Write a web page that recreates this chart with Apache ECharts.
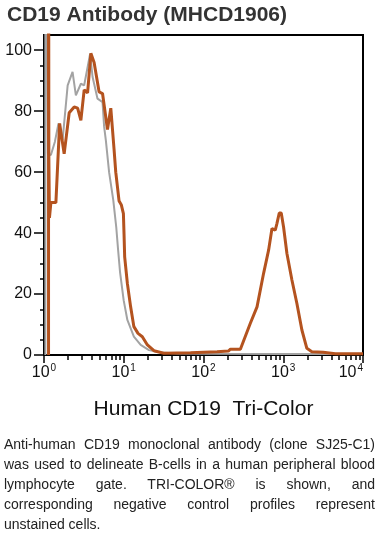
<!DOCTYPE html>
<html><head><meta charset="utf-8">
<script src="https://cdn.jsdelivr.net/npm/echarts@6/dist/echarts.min.js"></script>
<style>
html,body{margin:0;padding:0;background:#fff;}
#chart{position:absolute;left:0;top:0;width:382px;height:534px;}
#caption{position:absolute;left:4px;top:434px;width:371px;font-family:"Liberation Sans",Arial,sans-serif;font-size:14px;line-height:20px;color:#222;}
#caption div{white-space:nowrap;text-align:justify;text-align-last:justify;}
#caption div.last{text-align-last:left;}
</style></head><body>
<div id="chart"></div><div id="caption"></div>
<script>
const TITLE = 'CD19 Antibody (MHCD1906)';
const X_NAME = 'Human CD19  Tri-Color';
const CAPTION_LINES = [
  'Anti-human CD19 monoclonal antibody (clone SJ25-C1)',
  'was used to delineate B-cells in a human peripheral blood',
  'lymphocyte gate. TRI-COLOR\u00ae is shown, and',
  'corresponding negative control profiles represent',
  'unstained cells.'
];
const Y_TICKS = [0, 20, 40, 60, 80, 100];
const Y_MINOR_TICKS = [5,10,15,25,30,35,45,50,55,65,70,75,85,90,95];
const X_DECADES = [0, 1, 2, 3];
const X_MINOR_MULTIPLIERS = [2,3,4,5,6,7,8,9];

// Unstained control profile [fluorescence, % of max]
const controlProfile = [
  [1.04,0],[1.04,200],[1.08,200],[1.12,66],[1.22,65.6],[1.37,70],[1.52,76],[1.71,70.5],
  [1.98,88.5],[2.28,92.9],[2.51,85.2],[2.9,89],[3.19,88.5],[3.79,98.9],[4.06,91.3],
  [4.69,84.1],[5.42,83],[5.67,75],[5.96,70.5],[6.55,60],[7.39,50.8],[8.05,42],
  [8.5,34.4],[9.0,27],[9.97,18],[11.1,11.5],[13.4,6],[16.3,3.3],[20.7,1.6],[29,0.8],
  [46.9,0.5],[100,0.4],[1000,0.3],[10000,0.3]
];
// CD19 Tri-Color stained profile
const cd19Profile = [
  [1.14,0],[1.14,200],[1.15,65],[1.17,45],[1.22,50],[1.41,50],[1.57,76],[1.79,66],
  [2.07,79.5],[2.39,81.4],[2.64,81],[2.9,77],[3.19,87],[3.52,86],[3.87,99],[4.25,96],
  [4.91,86.3],[5.42,85.8],[6.25,74],[6.88,81],[7.56,67.5],[7.94,60],[8.74,50.5],
  [9.34,49.2],[9.9,46.4],[10.08,39.8],[10.27,32.2],[11.1,23.5],[12.2,15.8],[13.4,9.3],
  [15.1,7.1],[17.1,6],[19.8,3.3],[23.9,1.4],[31.8,0.6],[68.8,0.7],[72.2,1.1],[148,1.1],
  [154,1.3],[205,1.3],[217.7,1.9],[290,1.9],[304.6,2],[386.7,10.4],[469,15.8],[567,26.8],
  [655,34.4],[722,41.5],[794,41],[834,43.2],[891,46.6],[944,46.6],[1009,42],[1112,33.3],
  [1284,24.6],[1483,16.9],[1713,8.2],[1977,2.2],[2284,1.1],[3162,0.9],[4500,0.4],[10000,0.4]
];

const X_MINOR_TICKS = [];
X_DECADES.forEach(d => X_MINOR_MULTIPLIERS.forEach(m => X_MINOR_TICKS.push(Math.log10(m * Math.pow(10, d)))));

const FONT = '"Liberation Sans", Arial, Helvetica, sans-serif';
const cap = document.getElementById('caption');
CAPTION_LINES.forEach((t, i) => {
  const d = document.createElement('div');
  d.textContent = t;
  if (i === CAPTION_LINES.length - 1) d.className = 'last';
  cap.appendChild(d);
});

const chart = echarts.init(document.getElementById('chart'), null, {renderer: 'canvas'});
chart.setOption({
  animation: false,
  title: {text: TITLE, left: 2, top: 0, textStyle: {fontFamily: FONT, fontSize: 21, fontWeight: 'bold', color: '#333'}},
  grid: {left: 44, right: 19, top: 35, bottom: 179, show: true, borderColor: '#000', borderWidth: 2, outerBoundsMode: 'none', containLabel: false},
  xAxis: [{
    type: 'log', logBase: 10, min: 1, max: 10000, position: 'bottom',
    name: X_NAME, nameLocation: 'middle', nameGap: 44,
    nameTextStyle: {fontFamily: FONT, fontSize: 21, color: '#111'},
    axisLine: {onZero: false, lineStyle: {color: '#000', width: 2}},
    axisTick: {length: 8, lineStyle: {color: '#000', width: 1.5}},
    axisLabel: {
      margin: 8, alignMaxLabel: 'right',
      formatter: v => '{b|10}{s|' + Math.round(Math.log10(v)) + '}',
      rich: {
        b: {fontSize: 16, fontFamily: FONT, color: '#111'},
        s: {fontSize: 10, fontFamily: FONT, color: '#111', padding: [0, 0, 10, 1]}
      }
    },
    splitLine: {show: false}
  }, {
    type: 'value', min: 0, max: 4, position: 'bottom',
    axisLine: {show: false, onZero: false}, axisLabel: {show: false}, splitLine: {show: false},
    axisTick: {show: true, length: 5, customValues: X_MINOR_TICKS, lineStyle: {color: '#000', width: 1.5}}
  }],
  yAxis: [{
    type: 'value', min: 0, max: 105, position: 'left',
    axisLine: {show: true, onZero: false, lineStyle: {color: '#000', width: 2}},
    axisTick: {show: true, length: 10, customValues: Y_TICKS, lineStyle: {color: '#000', width: 1.5}},
    axisLabel: {margin: 12, customValues: Y_TICKS, fontSize: 16, fontFamily: FONT, color: '#111'},
    splitLine: {show: false}
  }, {
    type: 'value', min: 0, max: 105, position: 'left',
    axisLine: {show: false, onZero: false}, axisLabel: {show: false}, splitLine: {show: false},
    axisTick: {show: true, length: 4, customValues: Y_MINOR_TICKS, lineStyle: {color: '#000', width: 1.5}}
  }],
  series: [{
    name: 'Unstained', type: 'line', xAxisIndex: 0, yAxisIndex: 0, data: controlProfile,
    symbol: 'none', clip: true, lineStyle: {color: '#a3a3a3', width: 2}, z: 2
  }, {
    name: 'CD19 Tri-Color', type: 'line', xAxisIndex: 0, yAxisIndex: 0, data: cd19Profile,
    symbol: 'none', clip: true, lineStyle: {color: '#b4531f', width: 3}, z: 3
  }]
});
</script></body></html>
